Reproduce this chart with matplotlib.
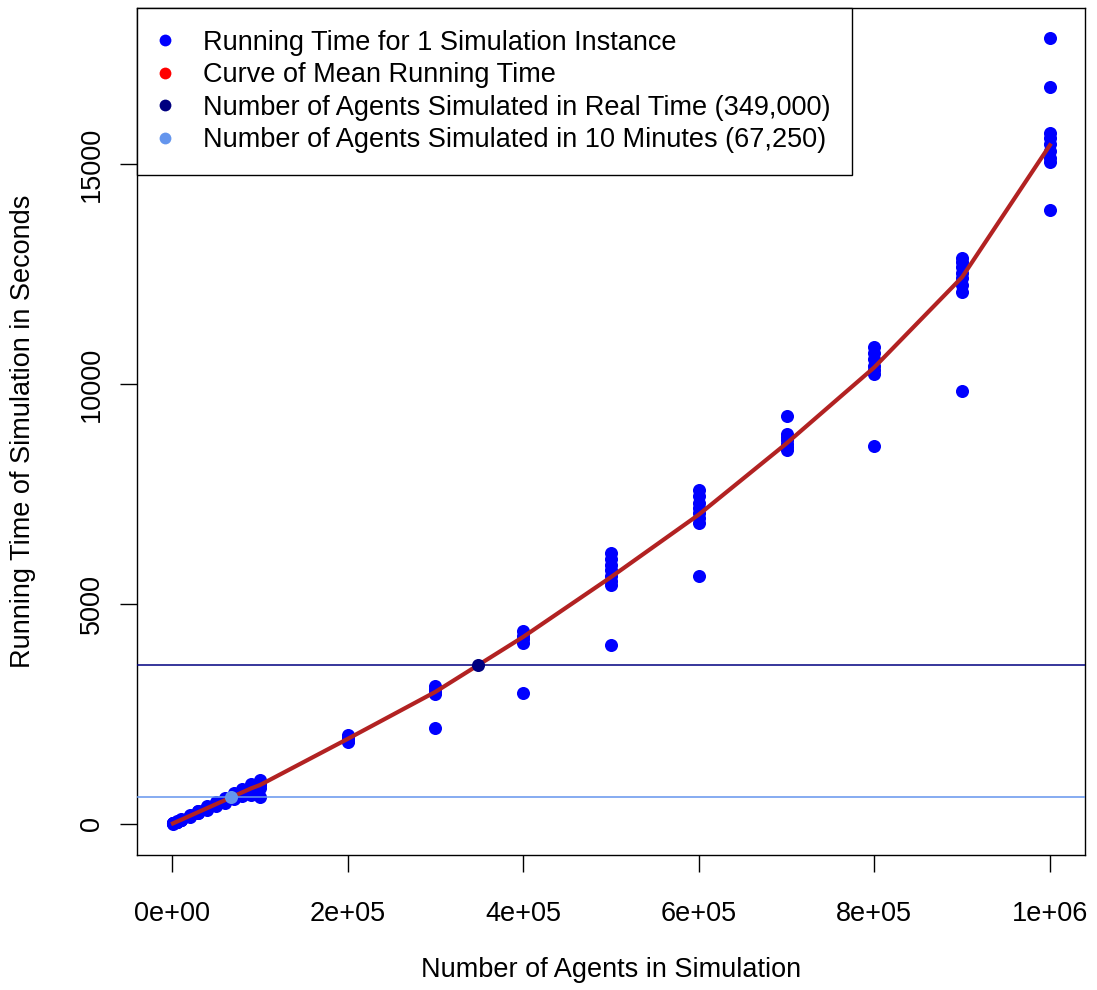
import numpy as np
import matplotlib
matplotlib.use("Agg")
import matplotlib.pyplot as plt
from matplotlib.lines import Line2D

plt.rcParams['font.family'] = ['Liberation Sans', 'DejaVu Sans']

# agents per simulation and the measured running times (seconds) for each run
agents = [1000, 5000, 10000, 20000, 30000, 40000, 50000, 60000, 70000, 80000,
          90000, 100000, 200000, 300000, 400000, 500000, 600000, 700000,
          800000, 900000, 1000000]
run_times = [
    [6, 8, 9, 10, 12],
    [38, 42, 45, 48, 52],
    [78, 84, 88, 92, 98],
    [160, 170, 178, 185, 197],
    [240, 255, 268, 280, 297],
    [320, 340, 357, 372, 396],
    [400, 425, 446, 465, 494],
    [480, 510, 535, 560, 590],
    [560, 600, 625, 650, 690],
    [640, 690, 715, 740, 790],
    [650, 760, 805, 840, 900],
    [600, 820, 880, 930, 990],
    [1860, 1890, 1930, 1970, 2030],
    [2180, 2950, 3000, 3060, 3130],
    [2980, 4120, 4200, 4280, 4380],
    [4070, 5420, 5530, 5640, 5760, 5880, 6020, 6150],
    [5640, 6850, 6950, 7060, 7180, 7300, 7450, 7600],
    [8500, 8560, 8640, 8720, 8800, 8860, 9280],
    [8580, 10230, 10320, 10420, 10560, 10700, 10850],
    [9840, 12100, 12250, 12400, 12530, 12650, 12780, 12875],
    [13955, 15050, 15130, 15300, 15450, 15600, 15700, 16760, 17860],
]
mean_times = [9, 45, 88, 178, 268, 357, 446, 535, 625, 715, 805, 880,
              1930, 3000, 4250, 5610, 7030, 8650, 10380, 12430, 15430]

real_time_agents, real_time_secs = 349000, 3600
ten_min_agents, ten_min_secs = 67250, 600

labels = ["Running Time for 1 Simulation Instance",
          "Curve of Mean Running Time",
          "Number of Agents Simulated in Real Time (349,000)",
          "Number of Agents Simulated in 10 Minutes (67,250)"]
colors = ["#0000FF", "#FF0000", "#000080", "#6495ED"]

fs = 19.5
fig = plt.figure(figsize=(10.97, 9.90), dpi=100)
ax = fig.add_axes([137 / 1097, 1 - 855 / 990, 948 / 1097, 847 / 990])

xs = np.concatenate([[a] * len(t) for a, t in zip(agents, run_times)])
ys = np.concatenate(run_times)
ax.plot(xs, ys, 'o', color=colors[0], markersize=9.4, markeredgewidth=0, zorder=2)
ax.plot(agents, mean_times, '-', color="#B22222", lw=3, zorder=3)
ax.axhline(real_time_secs, color=colors[2], lw=1.1, zorder=4)
ax.axhline(ten_min_secs, color=colors[3], lw=1.1, zorder=4)
ax.plot([real_time_agents], [real_time_secs], 'o', color=colors[2],
        markersize=9.4, markeredgewidth=0, zorder=5)
ax.plot([ten_min_agents], [ten_min_secs], 'o', color=colors[3],
        markersize=9.4, markeredgewidth=0, zorder=5)

ax.set_xlim(-40000, 1040000)
ax.set_ylim(-710, 18550)
xt = [0, 200000, 400000, 600000, 800000, 1000000]
ax.set_xticks(xt)
ax.set_xticklabels(["%.0e" % v if v else "0e+00" for v in xt], fontsize=fs)
ax.set_yticks([0, 5000, 10000, 15000])
ax.set_yticklabels(["0", "5000", "10000", "15000"], fontsize=fs,
                   rotation=90, va='center')
ax.tick_params(axis='both', direction='out', length=12, width=1)
ax.tick_params(axis='x', pad=21)
ax.tick_params(axis='y', pad=11)
for s in ax.spines.values():
    s.set_linewidth(1)

ax.set_xlabel("Number of Agents in Simulation", fontsize=fs, va='center')
ax.xaxis.set_label_coords(0.5, (855 - 970) / 847)
ax.set_ylabel("Running Time of Simulation in Seconds", fontsize=fs, va='center')
ax.yaxis.set_label_coords((23 - 137) / 948, 0.5)

handles = [Line2D([], [], ls='none', marker='o', color=c, markersize=8.5,
                  markeredgewidth=0) for c in colors]
leg = ax.legend(handles, labels, loc='upper left', bbox_to_anchor=(0, 1),
                borderaxespad=0, fontsize=fs, frameon=True, fancybox=False,
                borderpad=0.8, handlelength=0.44, handletextpad=1.18,
                labelspacing=0.24, framealpha=1)
leg.get_frame().set_edgecolor('black')
leg.get_frame().set_linewidth(1)

fig.savefig("out.png", dpi=100)
